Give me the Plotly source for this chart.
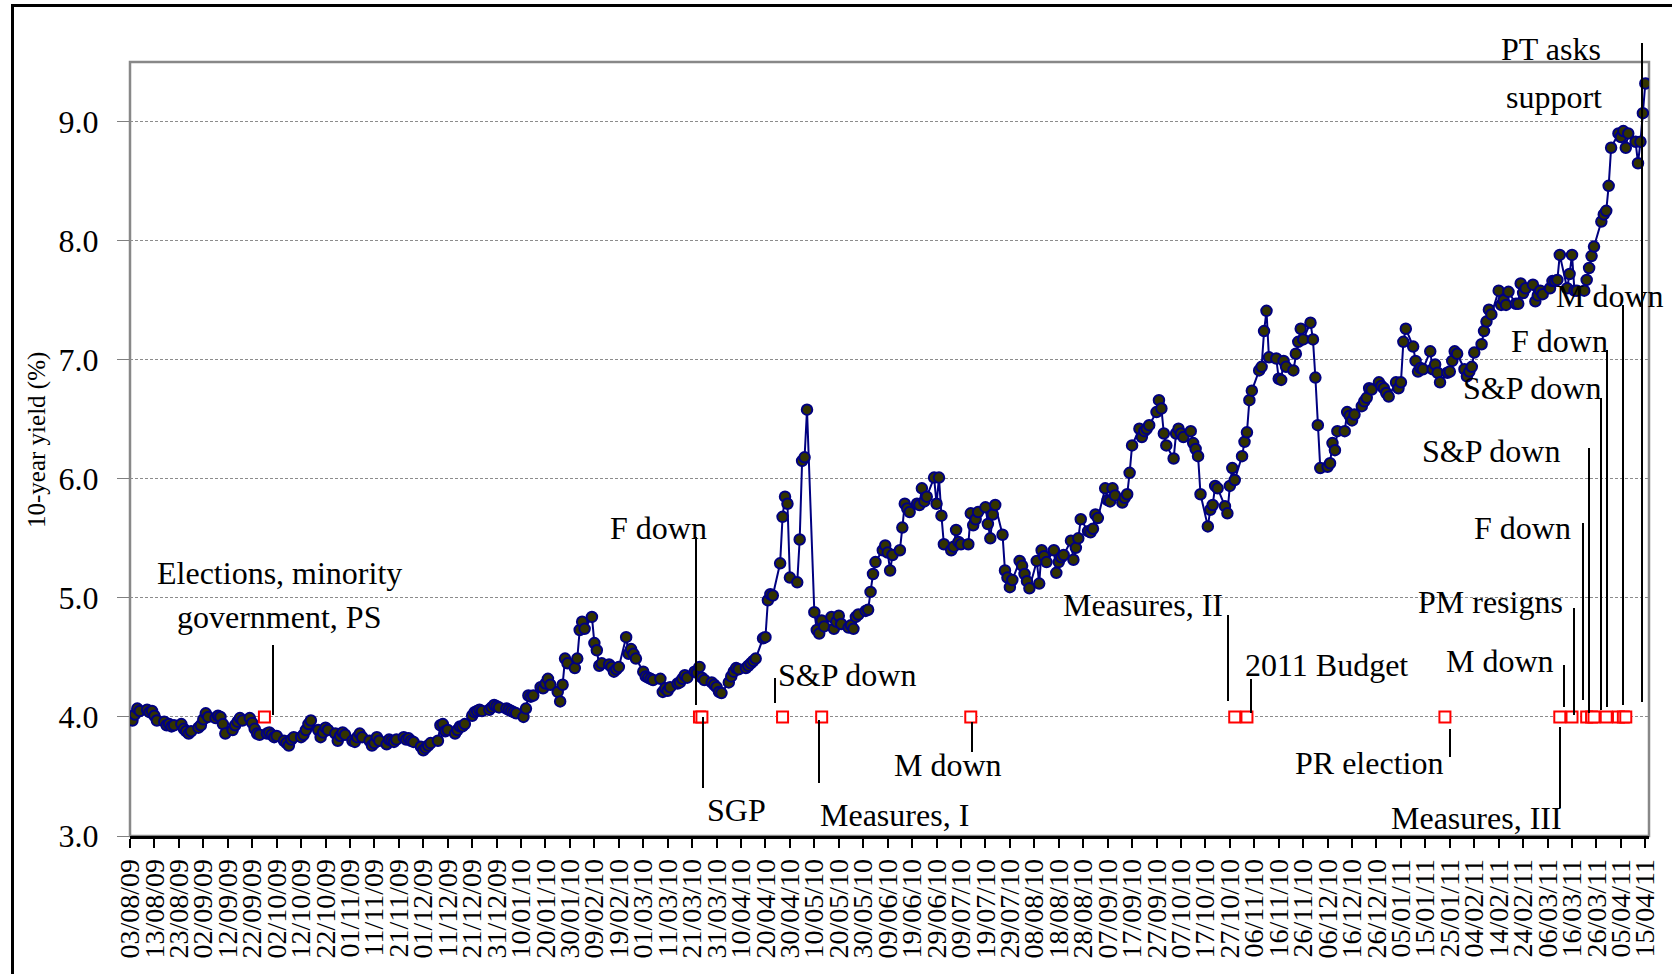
import pandas as pd
import plotly.graph_objects as go

# ---------------- data ----------------
start_date = "2009-08-03"
end_date = "2011-04-15"
dates = pd.bdate_range(start_date, end_date)  # business days

# 10-year yield (%), one row per week (Mon..Fri)
yields = [
    3.99, 3.97, 4.02, 4.07, 4.05,
    4.06, 4.04, 4.05, 4.01, 3.97,
    3.96, 3.93, 3.94, 3.92, 3.93,
    3.94, 3.90, 3.88, 3.86, 3.88,
    3.91, 3.93, 3.98, 4.03, 4.00,
    3.99, 4.01, 4.00, 3.94, 3.86,
    3.89, 3.93, 3.96, 3.99, 3.97,
    3.99, 3.95, 3.90, 3.86, 3.85,
    3.86, 3.87, 3.85, 3.83, 3.84,
    3.80, 3.78, 3.76, 3.81, 3.83,
    3.83, 3.85, 3.89, 3.94, 3.97,
    3.89, 3.83, 3.87, 3.91, 3.89,
    3.86, 3.80, 3.84, 3.87, 3.85,
    3.80, 3.79, 3.83, 3.86, 3.83,
    3.80, 3.76, 3.78, 3.83, 3.80,
    3.77, 3.81, 3.80, 3.79, 3.81,
    3.83, 3.81, 3.82, 3.80, 3.79,
    3.75, 3.72, 3.74, 3.76, 3.78,
    3.80, 3.93, 3.94, 3.88, 3.89,
    3.86, 3.89, 3.92, 3.92, 3.94,
    4.01, 4.04, 4.05, 4.06, 4.05,
    4.06, 4.08, 4.10, 4.09, 4.08,
    4.07, 4.06, 4.05, 4.04, 4.03,
    4.00, 4.07, 4.18, 4.17, 4.18,
    4.25, 4.24, 4.28, 4.32, 4.27,
    4.21, 4.13, 4.27, 4.49, 4.45,
    4.41, 4.49, 4.73, 4.80, 4.74,
    4.84, 4.62, 4.56, 4.43, 4.45,
    4.44, 4.42, 4.38, 4.40, 4.42,
    4.67, 4.53, 4.57, 4.53, 4.49,
    4.38, 4.34, 4.33, 4.32, 4.31,
    4.32, 4.21, 4.24, 4.22, 4.25,
    4.28, 4.29, 4.32, 4.35, 4.33,
    4.38, 4.37, 4.42, 4.33, 4.31,
    4.29, 4.27, 4.25, 4.21, 4.20,
    4.29, 4.34, 4.38, 4.41, 4.40,
    4.41, 4.43, 4.45, 4.47, 4.49,
    4.66, 4.67, 4.98, 5.03, 5.02,
    5.29, 5.68, 5.85, 5.79, 5.17,
    5.13, 5.49, 6.15, 6.18, 6.58,
    4.88, 4.73, 4.70, 4.81, 4.76,
    4.84, 4.74, 4.80, 4.85, 4.78,
    4.75, 4.77, 4.74, 4.84, 4.86,
    4.89, 4.90, 5.05, 5.20, 5.30,
    5.40, 5.44, 5.38, 5.23, 5.36,
    5.40, 5.59, 5.79, 5.75, 5.72,
    5.79, 5.78, 5.92, 5.81, 5.85,
    6.01, 5.79, 6.01, 5.69, 5.45,
    5.40, 5.43, 5.57, 5.47, 5.45,
    5.45, 5.71, 5.61, 5.66, 5.72,
    5.76, 5.62, 5.50, 5.70, 5.78,
    5.53, 5.23, 5.17, 5.09, 5.15,
    5.31, 5.27, 5.20, 5.14, 5.08,
    5.31, 5.12, 5.40, 5.35, 5.30,
    5.40, 5.21, 5.30, 5.34, 5.36,
    5.48, 5.32, 5.42, 5.50, 5.66,
    5.56, 5.55, 5.58, 5.70, 5.67,
    5.92, 5.82, 5.81, 5.92, 5.86,
    5.80, 5.84, 5.87, 6.05, 6.28,
    6.42, 6.35, 6.40, 6.42, 6.45,
    6.56, 6.66, 6.59, 6.38, 6.28,
    6.17, 6.38, 6.42, 6.38, 6.35,
    6.40, 6.30, 6.25, 6.19, 5.87,
    5.60, 5.74, 5.78, 5.94, 5.92,
    5.77, 5.71, 5.94, 6.09, 5.99,
    6.19, 6.31, 6.39, 6.66, 6.74,
    6.91, 6.94, 7.24, 7.41, 7.02,
    7.01, 6.84, 6.83, 6.99, 6.94,
    6.91, 7.05, 7.15, 7.26, 7.17,
    7.31, 7.17, 6.85, 6.45, 6.09,
    6.10, 6.13, 6.30, 6.24, 6.40,
    6.40, 6.56, 6.53, 6.49, 6.54,
    6.61, 6.65, 6.68, 6.76, 6.75,
    6.81, 6.78, 6.76, 6.72, 6.69,
    6.81, 6.76, 6.81, 7.15, 7.26,
    7.11, 6.99, 6.90, 6.93, 6.92,
    7.07, 6.92, 6.96, 6.89, 6.81,
    6.89, 6.90, 6.99, 7.07, 7.05,
    6.92, 6.86, 6.90, 6.94, 7.06,
    7.13, 7.24, 7.32, 7.42, 7.38,
    7.58, 7.46, 7.50, 7.46, 7.57,
    7.47, 7.47, 7.64, 7.56, 7.60,
    7.63, 7.49, 7.54, 7.58, 7.55,
    7.60, 7.66, 7.66, 7.67, 7.88,
    7.60, 7.72, 7.88, 7.58, 7.58,
    7.58, 7.67, 7.77, 7.87, 7.95,
    8.16, 8.22, 8.25, 8.46, 8.78,
    8.90, 8.87, 8.92, 8.78, 8.90,
    8.83, 8.65, 8.83, 9.07, 9.32,
]

# events (red squares at the 4.0 level)
event_dates = [
    "2009-09-27", "2010-03-24", "2010-03-25", "2010-04-27", "2010-05-13",
    "2010-07-13", "2010-10-29", "2010-11-03", "2011-01-23", "2011-03-11",
    "2011-03-16", "2011-03-22", "2011-03-24", "2011-03-25", "2011-03-30",
    "2011-04-04", "2011-04-06", "2011-04-07",
]
event_names = [
    "Elections, minority government, PS", "F down", "SGP", "S&P down", "Measures, I",
    "M down", "Measures, II", "2011 Budget", "PR election", "Measures, III",
    "M down", "PM resigns", "F down", "S&P down", "S&P down",
    "F down", "M down", "PT asks support",
]
event_level = [4.0] * len(event_dates)

y_ticks = [3.0, 4.0, 5.0, 6.0, 7.0, 8.0, 9.0]
y_range = [3.0, 9.5]
x_range = ["2009-08-03", "2011-04-16 12:00"]

# ---------------- layout geometry ----------------
W, H = 1672, 974
ML, MT = 130, 62           # plot area left / top (pixels)
PW, PH = 1519, 774         # plot area size
MR, MB = W - ML - PW, H - MT - PH


def px(x):
    return (x - ML) / PW


def py(y):
    return (MT + PH - y) / PH


SERIF = "Liberation Serif, Times New Roman, serif"

fig = go.Figure()
fig.add_trace(go.Scatter(
    x=dates, y=yields, mode="lines+markers",
    line=dict(color="#000080", width=2),
    marker=dict(symbol="circle", size=10.5, color="#333300",
                line=dict(color="#000080", width=2)),
    showlegend=False, hoverinfo="x+y",
))
fig.add_trace(go.Scatter(
    x=pd.to_datetime(event_dates), y=event_level, mode="markers",
    marker=dict(symbol="square", size=11, color="white",
                line=dict(color="#ff0000", width=2)),
    text=event_names, hoverinfo="text+x",
    showlegend=False,
))

# label texts: (text, centre x px, centre y px)
labels = [
    ("Elections, minority", 279, 573),
    ("government, PS", 279, 617),
    ("F down", 658, 528),
    ("SGP", 736, 810),
    ("S&P down", 847, 675),
    ("Measures, I", 894, 815),
    ("M down", 948, 765),
    ("Measures, II", 1143, 605),
    ("2011 Budget", 1326, 665),
    ("PR election", 1369, 763),
    ("Measures, III", 1476, 818),
    ("M down", 1500, 661),
    ("PM resigns", 1490, 602),
    ("F down", 1522, 528),
    ("S&P down", 1491, 451),
    ("S&P down", 1532, 388),
    ("F down", 1559, 341),
    ("M down", 1610, 296),
    ("PT asks", 1551, 49),
    ("support", 1554, 97),
]
annotations = []
for txt, x, y in labels:
    annotations.append(dict(
        text=txt, x=px(x), y=py(y), xref="paper", yref="paper",
        xanchor="center", yanchor="middle", showarrow=False,
        font=dict(family=SERIF, size=32, color="black"),
    ))
annotations.append(dict(
    text="10-year yield (%)", x=px(37), y=py(440), xref="paper", yref="paper",
    xanchor="center", yanchor="middle", showarrow=False, textangle=-90,
    font=dict(family=SERIF, size=25, color="black"),
))

# leader lines: (x px, top y px, bottom y px)
leaders = [
    (273, 645, 715), (696, 537, 705), (703, 717, 788), (775, 678, 703),
    (819, 720, 783), (972, 722, 752), (1228, 615, 701), (1251, 679, 713),
    (1450, 729, 757), (1560, 727, 808), (1564, 665, 707), (1574, 608, 715),
    (1583, 523, 700), (1589, 448, 713), (1601, 398, 710), (1607, 350, 707),
    (1623, 305, 705), (1642, 43, 702),
]
shapes = [
    # outer chart frame
    dict(type="rect", xref="paper", yref="paper", x0=px(12.5), x1=px(1740),
         y0=py(1020), y1=py(5.5), line=dict(color="black", width=3),
         fillcolor="rgba(0,0,0,0)", layer="below"),
    # plot area border
    dict(type="rect", xref="paper", yref="paper", x0=0, x1=1, y0=0, y1=1,
         line=dict(color="#888888", width=2.5), layer="below"),
]
for x, y0, y1 in leaders:
    shapes.append(dict(type="line", xref="paper", yref="paper",
                       x0=px(x), x1=px(x), y0=py(y0), y1=py(y1),
                       line=dict(color="black", width=2), layer="above"))

fig.update_layout(
    width=W, height=H,
    margin=dict(l=ML, r=MR, t=MT, b=MB, pad=0),
    paper_bgcolor="white", plot_bgcolor="white",
    annotations=annotations, shapes=shapes,
    xaxis=dict(
        type="date", range=x_range,
        tick0=start_date, dtick=10 * 86400000, tickformat="%d/%m/%y",
        tickangle=-90, ticks="outside", ticklen=9, tickwidth=2, tickcolor="black",
        showline=True, linecolor="black", linewidth=2.5,
        showgrid=False, zeroline=False,
        tickfont=dict(family=SERIF, size=28, color="black"),
    ),
    yaxis=dict(
        range=y_range, tickvals=y_ticks, tickformat=".1f",
        ticks="outside", ticklen=12, tickwidth=1, tickcolor="#808080",
        showline=False, showgrid=True, gridcolor="#8c8c8c", gridwidth=1,
        griddash="3px,2px", zeroline=False,
        tickfont=dict(family=SERIF, size=32, color="black"),
        ticklabelstandoff=12,
    ),
)

fig.write_html("out.html", config={"displayModeBar": False},
               post_script="document.body.style.margin='0';")
